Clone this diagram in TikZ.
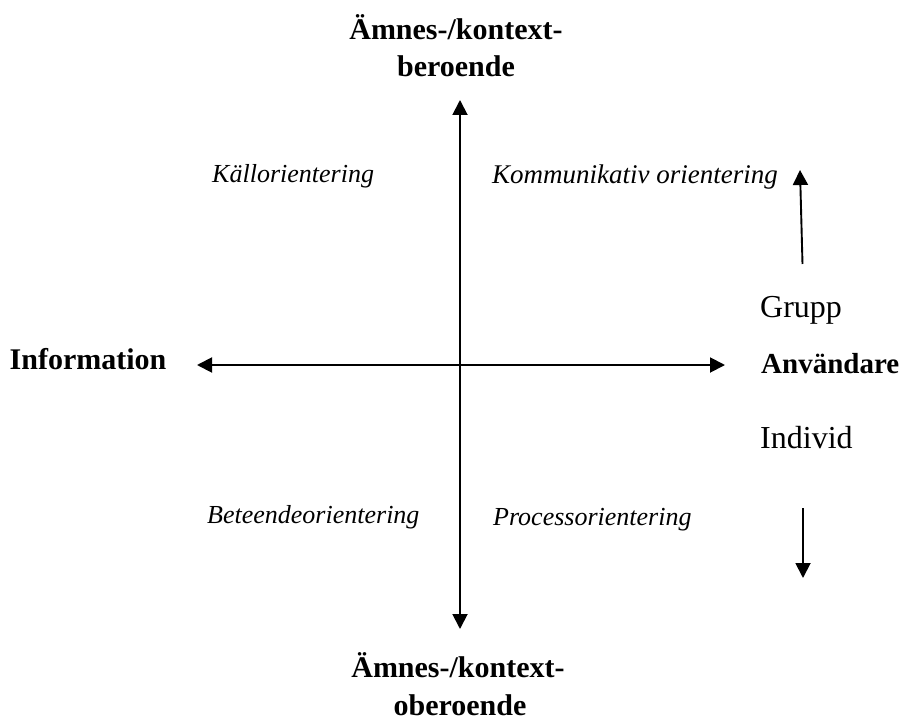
\documentclass[tikz,border=0pt]{standalone}
\usepackage{fontspec}
\setmainfont{Liberation Serif}
\usetikzlibrary{arrows.meta}
\begin{document}
\begin{tikzpicture}[x=1pt,y=-1pt,
  axis/.style={line width=1.9pt,{Triangle[length=15pt,width=15pt]}-{Triangle[length=15pt,width=15pt]}},
  sidearrow/.style={line width=1.9pt,-{Triangle[length=15pt,width=15pt]}},
  bold/.style={font=\fontsize{30}{36}\selectfont\bfseries,inner sep=0pt,anchor=base},
  reg/.style={font=\fontsize{32}{36}\selectfont,inner sep=0pt,anchor=base west},
  quad/.style={font=\fontsize{26}{30}\selectfont\itshape,inner sep=0pt,anchor=base west}]
\useasboundingbox (0,0) rectangle (900,722);
\coordinate (vt) at (460,100);
\coordinate (vb) at (460,629);
\coordinate (hl) at (197,365);
\coordinate (hr) at (725,365);
\draw[axis] (vb) -- (vt);
\draw[axis] (hl) -- (hr);
\node[bold] (top1) at (456,40) {Ämnes-/kontext-};
\node[bold] (top2) at (456,77) {beroende};
\node[bold] (bot1) at (458,677) {Ämnes-/kontext-};
\node[bold] (bot2) at (460,715) {oberoende};
\node[bold] (info) at (88,369) {Information};
\node[bold,anchor=base west,font=\fontsize{29}{34}\selectfont\bfseries] (anv) at (761,373) {Användare};
\node[reg] (grupp) at (760,317) {Grupp};
\node[reg] (indiv) at (760,448) {Individ};
\node[quad] (kall) at (212,183) {Källorientering};
\node[quad,font=\fontsize{27}{30}\selectfont\itshape] (komm) at (492,184) {Kommunikativ orientering};
\node[quad] (bete) at (207,523) {Beteendeorientering};
\node[quad] (proc) at (493,525) {Processorientering};
\coordinate (ua) at (802.5,264);
\coordinate (ub) at (800,170);
\coordinate (da) at (803,508);
\coordinate (db) at (803,578);
\draw[sidearrow] (ua) -- (ub);
\draw[sidearrow] (da) -- (db);
\end{tikzpicture}
\end{document}
